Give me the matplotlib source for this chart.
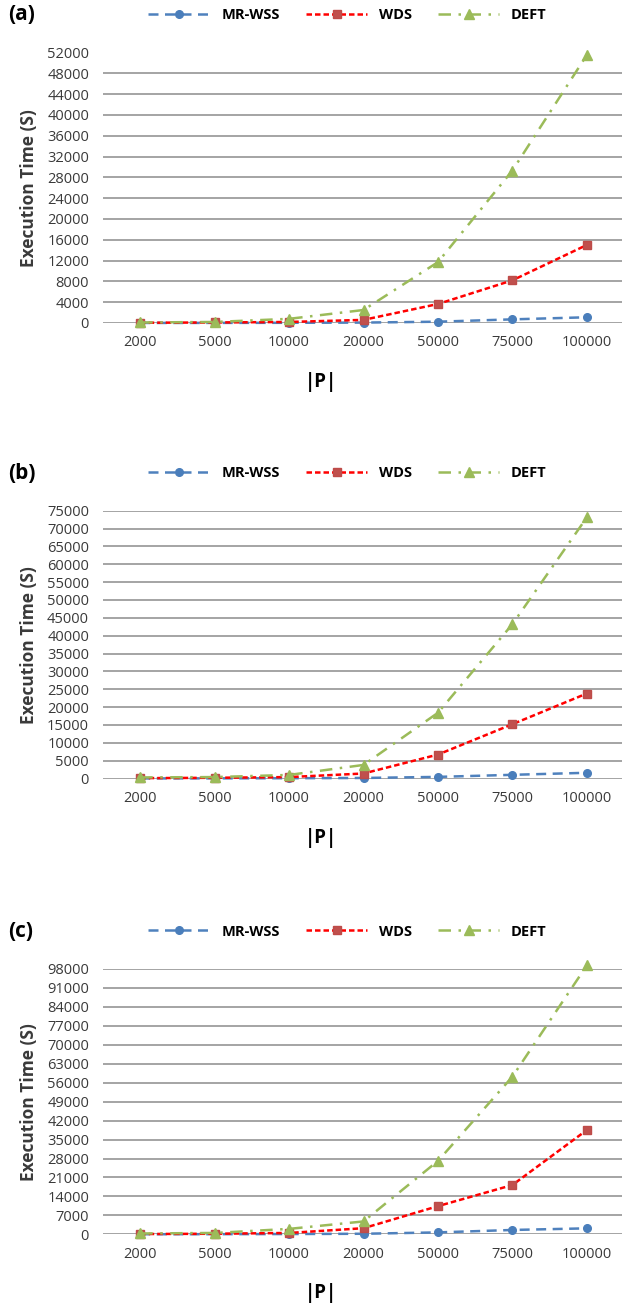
import numpy as np
import matplotlib
matplotlib.use('Agg')
import matplotlib.pyplot as plt

plt.rcParams['font.family'] = ['Open Sans', 'DejaVu Sans']

# Data
sizes = ['2000', '5000', '10000', '20000', '50000', '75000', '100000']
series_names = ['MR-WSS', 'WDS', 'DEFT']

# panel (a)
a_mrwss = [10, 20, 40, 80, 250, 700, 1100]
a_wds = [50, 100, 200, 600, 3650, 8200, 15000]
a_deft = [100, 200, 800, 2500, 11700, 29300, 51500]

# panel (b)
b_mrwss = [20, 40, 80, 150, 450, 1030, 1600]
b_wds = [100, 200, 400, 1400, 6700, 15200, 23800]
b_deft = [300, 400, 1000, 3800, 18400, 43200, 73100]

# panel (c)
c_mrwss = [20, 50, 100, 200, 700, 1600, 2200]
c_wds = [100, 200, 500, 2250, 10400, 18200, 38500]
c_deft = [300, 500, 2000, 4750, 27100, 58200, 99300]

a_ticks = np.arange(0, 52001, 4000)
b_ticks = np.arange(0, 75001, 5000)
c_ticks = np.arange(0, 98001, 7000)

panels = [
    ('(a)', [a_mrwss, a_wds, a_deft], a_ticks, 52.5, 323.0),
    ('(b)', [b_mrwss, b_wds, b_deft], b_ticks, 510.7, 778.5),
    ('(c)', [c_mrwss, c_wds, c_deft], c_ticks, 969.0, 1234.3),
]

styles = [
    dict(color='#4f81bd', linestyle=(0, (4, 2.6)), marker='o', markersize=5.5,
         markerfacecolor='#4a7ebb', markeredgecolor='#4a7ebb'),
    dict(color='#ff0000', linestyle=(0, (2.2, 1.2)), marker='s', markersize=5.5,
         markerfacecolor='#c0504d', markeredgecolor='#be4b48'),
    dict(color='#9bbb59', linestyle=(0, (5, 3, 1, 3)), marker='^', markersize=7.5,
         markerfacecolor='#9bbb59', markeredgecolor='#9bbb59'),
]

W, H = 622, 1307
fig = plt.figure(figsize=(W / 100, H / 100), dpi=100)

x = np.arange(len(sizes))
left, right = 103, 624

for label, data, ticks, ytop, ybot in panels:
    ax = fig.add_axes([left / W, 1 - ybot / H, (right - left) / W, (ybot - ytop) / H])
    lines = []
    for vals, st, name in zip(data, styles, series_names):
        ln, = ax.plot(x, vals, linewidth=1.8, clip_on=False, label=name, zorder=3, **st)
        lines.append(ln)
    ax.set_xlim(-0.5, 6.5)
    ax.set_ylim(0, ticks[-1])
    ax.set_yticks(ticks)
    ax.set_yticklabels([str(t) for t in ticks])
    ax.set_xticks(x)
    ax.set_xticklabels(sizes)
    ax.tick_params(length=0, labelsize=10.5, colors='#3a3a3a')
    ax.tick_params(axis='y', pad=10)
    ax.tick_params(axis='x', pad=9)
    ax.grid(axis='y', color='#8c8c8c', linewidth=1.1)
    ax.set_axisbelow(True)
    for s in ax.spines.values():
        s.set_visible(False)

    yc = 1 - (ytop + ybot) / 2 / H
    fig.text(29 / W, yc, 'Execution Time (S)', rotation=90, ha='center', va='center',
             fontsize=12.5, fontweight='bold', color='#3a3a3a')
    fig.text(8 / W, 1 - (ytop - 37.5) / H, label, ha='left', va='center',
             fontsize=15, fontweight='bold', color='black')
    fig.legend(handles=lines, loc='center', ncol=3,
               bbox_to_anchor=(347.5 / W, 1 - (ytop - 37.5) / H),
               frameon=False, handlelength=4.2, handletextpad=0.8,
               columnspacing=1.8, prop={'weight': 'bold', 'size': 10.5})
    fig.text(321 / W, 1 - (ybot + 59) / H, '|P|', ha='center', va='center',
             fontsize=13.5, fontweight='bold', color='black')

fig.savefig('out.png', dpi=100)
